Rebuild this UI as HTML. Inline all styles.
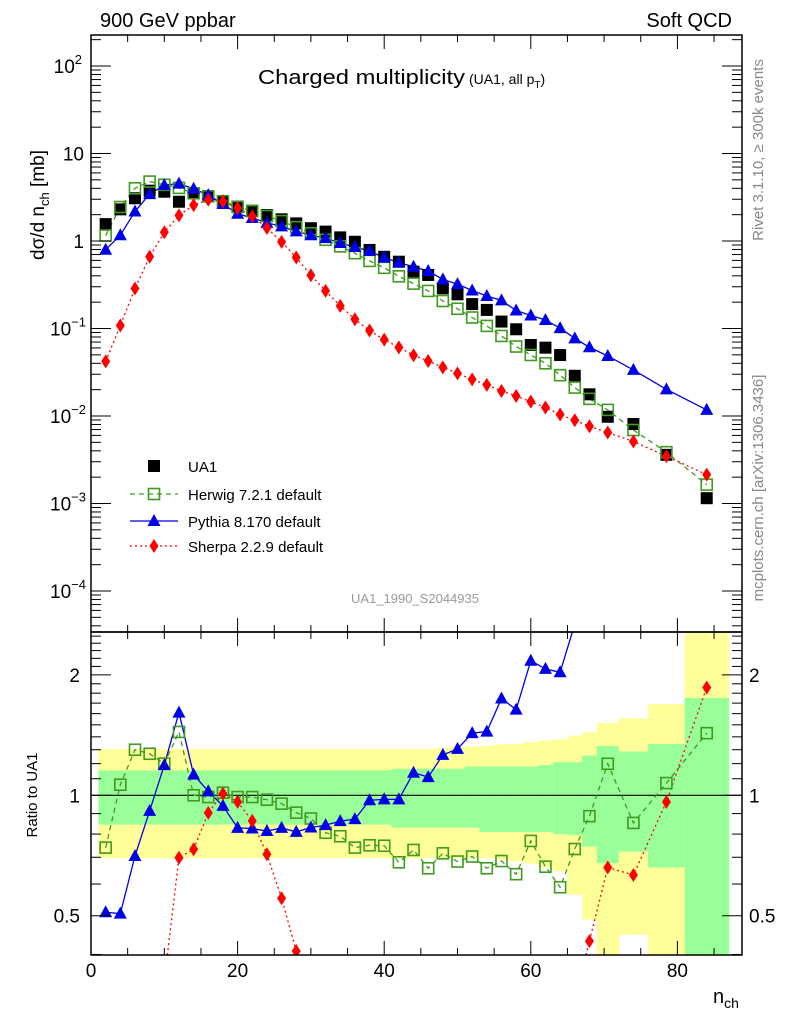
<!DOCTYPE html>
<html><head><meta charset="utf-8"><style>
html,body{margin:0;padding:0;background:#fff;width:786px;height:1024px;overflow:hidden;font-family:"Liberation Sans",sans-serif}
svg{display:block}
svg text{font-family:"Liberation Sans","DejaVu Sans",sans-serif}
</style></head><body>
<svg id="c" width="786" height="1024" viewBox="0 0 786 1024" xmlns="http://www.w3.org/2000/svg"></svg>
<script>
const nch=[2,4,6,8,10,12,14,16,18,20,22,24,26,28,30,32,34,36,38,40,42,44,46,48,50,52,54,56,58,60,62,64,66,68,70.5,74,78.5,84];
const binLo=[1,3,5,7,9,11,13,15,17,19,21,23,25,27,29,31,33,35,37,39,41,43,45,47,49,51,53,55,57,59,61,63,65,67,69,72,76,81];
const binHi=[3,5,7,9,11,13,15,17,19,21,23,25,27,29,31,33,35,37,39,41,43,45,47,49,51,53,55,57,59,61,63,65,67,69,72,76,81,87];
const ua1=[1.56,2.3,3.08,3.76,3.66,2.81,3.51,3.27,2.81,2.47,2.22,1.98,1.77,1.59,1.40,1.28,1.10,0.98,0.79,0.66,0.58,0.446,0.409,0.288,0.246,0.19,0.163,0.12,0.098,0.0648,0.0604,0.0497,0.0288,0.0177,0.0098,0.0081,0.0036,0.00115];
const herwigRatio=[0.74,1.063,1.30,1.27,1.20,1.44,1.0,0.99,1.015,0.99,0.99,0.975,0.953,0.905,0.875,0.806,0.79,0.74,0.75,0.748,0.68,0.73,0.657,0.716,0.683,0.703,0.657,0.685,0.635,0.769,0.663,0.589,0.734,0.887,1.199,0.853,1.073,1.43];
const pythiaRatio=[0.51,0.506,0.705,0.914,1.19,1.61,1.126,1.023,0.941,0.829,0.826,0.814,0.829,0.81,0.831,0.842,0.862,0.872,0.972,0.977,0.977,1.139,1.11,1.262,1.306,1.43,1.443,1.746,1.637,2.17,2.07,2.03,2.68,3.45,4.95,4.15,5.6,10.2];
const sherpaRatio=[0.027,0.047,0.093,0.176,0.344,0.698,0.733,0.904,1.01,0.963,0.863,0.712,0.553,0.408,0.29,0.21,0.165,0.13,0.12,0.113,0.105,0.111,0.104,0.125,0.125,0.138,0.139,0.161,0.173,0.225,0.207,0.209,0.31,0.432,0.66,0.632,0.963,1.86];
const yelHi=[1.306,1.306,1.306,1.306,1.306,1.306,1.306,1.306,1.306,1.306,1.306,1.306,1.306,1.306,1.306,1.306,1.306,1.306,1.306,1.306,1.306,1.306,1.306,1.315,1.32,1.325,1.33,1.34,1.345,1.357,1.37,1.38,1.41,1.437,1.516,1.557,1.69,3];
const yelLo=[0.696,0.696,0.696,0.696,0.696,0.696,0.696,0.696,0.696,0.696,0.696,0.696,0.696,0.696,0.696,0.696,0.696,0.696,0.696,0.696,0.696,0.696,0.696,0.696,0.696,0.696,0.696,0.69,0.683,0.675,0.66,0.645,0.564,0.489,0.3,0.448,0.3,0.3];
const grnHi=[1.154,1.154,1.154,1.154,1.154,1.154,1.154,1.154,1.154,1.154,1.154,1.154,1.154,1.154,1.154,1.154,1.154,1.154,1.154,1.154,1.165,1.165,1.165,1.165,1.165,1.18,1.18,1.18,1.18,1.18,1.19,1.21,1.21,1.257,1.327,1.287,1.344,1.75];
const grnLo=[0.845,0.845,0.845,0.845,0.845,0.845,0.845,0.845,0.845,0.845,0.845,0.845,0.845,0.845,0.845,0.845,0.845,0.845,0.845,0.845,0.83,0.83,0.83,0.83,0.83,0.83,0.81,0.81,0.81,0.81,0.81,0.8,0.795,0.744,0.676,0.723,0.66,0.3];
const xTicks=[0,20,40,60,80];

const NS="http://www.w3.org/2000/svg",S=document.getElementById('c');
const L=91,R=742,T=35,M=632,B=955;
const X=n=>L+7.33*n;
const Y=v=>241-87.5*Math.log10(v);
const RY=r=>795.3-400*Math.log10(r);
const cy=(y,a,b)=>Math.max(a,Math.min(b,y));
function el(t,a,p){const e=document.createElementNS(NS,t);for(const k in a)e.setAttribute(k,a[k]);(p||S).appendChild(e);return e;}
function txt(s,a,p){const e=el('text',a,p);e.textContent=s;return e;}
const defs=el('defs',{});
const cp1=el('clipPath',{id:'cm'},defs);el('rect',{x:L,y:T,width:R-L,height:M-T},cp1);
const cp2=el('clipPath',{id:'cr'},defs);el('rect',{x:L,y:M,width:R-L,height:B-M},cp2);
const gMain=el('g',{'clip-path':'url(#cm)'});

const gRat=el('g',{'clip-path':'url(#cr)'});


for(let i=0;i<nch.length;i++){
 const x0=X(binLo[i]),x1=X(binHi[i]);
 const t1=cy(RY(yelHi[i]),M,B),b1=cy(RY(yelLo[i]),M,B);
 const y=el('rect',{x:x0,y:t1,width:x1-x0+0.5,height:b1-t1,fill:'#ffff99'},gRat);
 
 const t2=cy(RY(grnHi[i]),M,B),b2=cy(RY(grnLo[i]),M,B);
 const g=el('rect',{x:x0,y:t2,width:x1-x0+0.5,height:b2-t2,fill:'#99ff99'},gRat);
 
}
const one=el('line',{x1:L,x2:R,y1:RY(1),y2:RY(1),stroke:'#000','stroke-width':1.2},gRat);


function marker(type,x,y,p,name){
 let e;
 if(type==='sqf')e=el('rect',{x:x-6,y:y-6,width:12,height:12,fill:'#000'},p);
 else if(type==='sqo')e=el('rect',{x:x-5.5,y:y-5.5,width:11,height:11,fill:'none',stroke:'#3f9a1f','stroke-width':1.6},p);
 else if(type==='tri')e=el('polygon',{points:`${x},${y-7} ${x-6.5},${y+5} ${x+6.5},${y+5}`,fill:'#0000e6'},p);
 else e=el('polygon',{points:`${x},${y-7} ${x-4.5},${y} ${x},${y+7} ${x+4.5},${y}`,fill:'#ff0000'},p);
 
}
// clip a polyline to y-range [a,b], returning pieces
function clipLine(pts,a,b){
 const pieces=[];let cur=[];
 for(let i=0;i<pts.length-1;i++){
  let [x0,y0]=pts[i],[x1,y1]=pts[i+1];
  if((y0<a&&y1<a)||(y0>b&&y1>b)){if(cur.length)pieces.push(cur);cur=[];continue;}
  const lerp=yy=>x0+(x1-x0)*(yy-y0)/(y1-y0);
  let sx=x0,sy=y0,ex=x1,ey=y1;
  if(y0<a){sx=lerp(a);sy=a;}else if(y0>b){sx=lerp(b);sy=b;}
  if(y1<a){ex=lerp(a);ey=a;}else if(y1>b){ex=lerp(b);ey=b;}
  if(!cur.length||sx!==cur[cur.length-1][0]||sy!==cur[cur.length-1][1]){if(cur.length)pieces.push(cur);cur=[[sx,sy]];}
  cur.push([ex,ey]);
  if(ex!==x1||ey!==y1){pieces.push(cur);cur=[];}
 }
 if(cur.length)pieces.push(cur);
 return pieces;
}
const series=[
 {r:herwigRatio,type:'sqo',col:'#3f9a1f',dash:'5,4',name:'herwig'},
 {r:pythiaRatio,type:'tri',col:'#0000e6',dash:'',name:'pythia'},
 {r:sherpaRatio,type:'dia',col:'#ff0000',dash:'2,3',name:'sherpa'}];
for(const s of series){
 const pm=nch.map((n,i)=>X(n)+','+Y(ua1[i]*s.r[i])).join(' ');
 const lm=el('polyline',{points:pm,fill:'none',stroke:s.col,'stroke-width':1.3,'stroke-dasharray':s.dash},gMain);
 
 const pts=nch.map((n,i)=>[X(n),RY(s.r[i])]);
 for(const pc of clipLine(pts,M,B)){
  const lr=el('polyline',{points:pc.map(p=>p[0]+','+p[1]).join(' '),fill:'none',stroke:s.col,'stroke-width':1.3,'stroke-dasharray':s.dash},gRat);
  
 }
}
nch.forEach((n,i)=>marker('sqf',X(n),Y(ua1[i]),gMain,'ua1-point'));
for(const s of series){
 nch.forEach((n,i)=>{
  marker(s.type,X(n),Y(ua1[i]*s.r[i]),gMain,s.name+'-point');
  const ry=RY(s.r[i]);
  if(ry>M-6&&ry<B+6) marker(s.type,X(n),ry,gRat,s.name+'-ratio-point');
 });
}

for(const [y0,y1,nm] of [[T,M,'main-frame'],[M,B,'ratio-frame']]){
 const f=el('rect',{x:L,y:y0,width:R-L,height:y1-y0,fill:'none',stroke:'#000','stroke-width':1.5});
 
}
const ax=el('g',{stroke:'#000','stroke-width':1});

for(let n=0;n<=85;n+=5){
 const big=n%20===0,len=big?14:7,x=X(n);
 for(const y of [T,M]) el('line',{x1:x,x2:x,y1:y,y2:y+len},ax);
 for(const y of [M,B]) el('line',{x1:x,x2:x,y1:y,y2:y-len},ax);
}
xTicks.forEach(v=>{const t=txt(String(v),{x:X(v),y:977,'font-size':19,'text-anchor':'middle'});
 });
const ay=el('g',{stroke:'#000','stroke-width':1});

for(let e=-5;e<=2;e++)for(let m=1;m<10;m++){
 const y=Y(m*Math.pow(10,e));if(y<T||y>M)continue;const len=m===1?20:10;
 el('line',{x1:L,x2:L+len,y1:y,y2:y},ay);el('line',{x1:R,x2:R-len,y1:y,y2:y},ay);
}
const yl=[[2,'10','2'],[1,'10',''],[0,'1',''],[-1,'10','−1'],[-2,'10','−2'],[-3,'10','−3'],[-4,'10','−4']];
for(const [e,b,s] of yl){
 const y=Y(Math.pow(10,e))+7;
 const t=txt('',{x:s?80:84,y:y,'font-size':19,'text-anchor':'end'});
 
 if(s){const a=el('tspan',{},t);a.textContent=b;const c=el('tspan',{'font-size':13,dy:-9},t);c.textContent=s;t.setAttribute('x',s.length>1?86:82);}
 else t.textContent=b;
}
for(let k=4;k<=25;k++){
 const r=k/10,y=RY(r);if(y<M||y>B)continue;const big=(k===5||k===10||k===20),len=big?20:10;
 el('line',{x1:L,x2:L+len,y1:y,y2:y},ay);el('line',{x1:R,x2:R-len,y1:y,y2:y},ay);
}
for(const r of [2,1,0.5]){
 for(const [x,anc] of [[80,'end'],[749,'start']]){
  const t=txt(String(r),{x:x,y:RY(r)+7,'font-size':19,'text-anchor':anc});
  
 }
}
function lab(s,a,name){const t=txt(s,a);return t;}
lab('900 GeV ppbar',{x:100,y:27,'font-size':20},'energy-label');
lab('Soft QCD',{x:732,y:27,'font-size':20,'text-anchor':'end'},'process-label');
lab('Charged multiplicity',{x:258,y:84,'font-size':20,textLength:207,lengthAdjust:'spacingAndGlyphs'},'plot-title');
const ts=lab('(UA1, all p',{x:469,y:84,'font-size':14},'plot-subtitle');
const sub=el('tspan',{'font-size':10,dy:4},ts);sub.textContent='T';const cl=el('tspan',{dy:-4},ts);cl.textContent=')';
const yt=lab('',{transform:'translate(44,205) rotate(-90)','font-size':19,'text-anchor':'middle'},'y-axis-title');
yt.innerHTML='dσ/d n<tspan font-size="13" dy="5">ch</tspan><tspan dy="-5"> [mb]</tspan>';
lab('Ratio to UA1',{transform:'translate(37,795) rotate(-90)','font-size':15,'text-anchor':'middle'},'ratio-axis-title');
const xt=lab('',{x:713,y:1003,'font-size':20},'x-axis-title');xt.innerHTML='n<tspan font-size="14" dy="5">ch</tspan>';
lab('Rivet 3.1.10, ≥ 300k events',{transform:'translate(763,150) rotate(-90)','font-size':15,fill:'#888','text-anchor':'middle'},'rivet-version-label');
lab('mcplots.cern.ch [arXiv:1306.3436]',{transform:'translate(763,488) rotate(-90)','font-size':15,fill:'#888','text-anchor':'middle'},'mcplots-label');
lab('UA1_1990_S2044935',{x:415,y:603,'font-size':13,fill:'#999','text-anchor':'middle'},'analysis-id-label');
const lg=[['sqf','UA1','','',466,'ua1'],['sqo','Herwig 7.2.1 default','#3f9a1f','5,4',494,'herwig'],['tri','Pythia 8.170 default','#0000e6','',521,'pythia'],['dia','Sherpa 2.2.9 default','#ff0000','2,3',546,'sherpa']];
for(const [ty,s,col,da,y,nm] of lg){
 if(col){const l=el('line',{x1:130,x2:178,y1:y,y2:y,stroke:col,'stroke-width':1.3,'stroke-dasharray':da});}
 marker(ty,154,y,S,'legend-marker-'+nm);
 lab(s,{x:188,y:y+6,'font-size':15},'legend-entry-'+nm);
}
</script>
</body></html>
